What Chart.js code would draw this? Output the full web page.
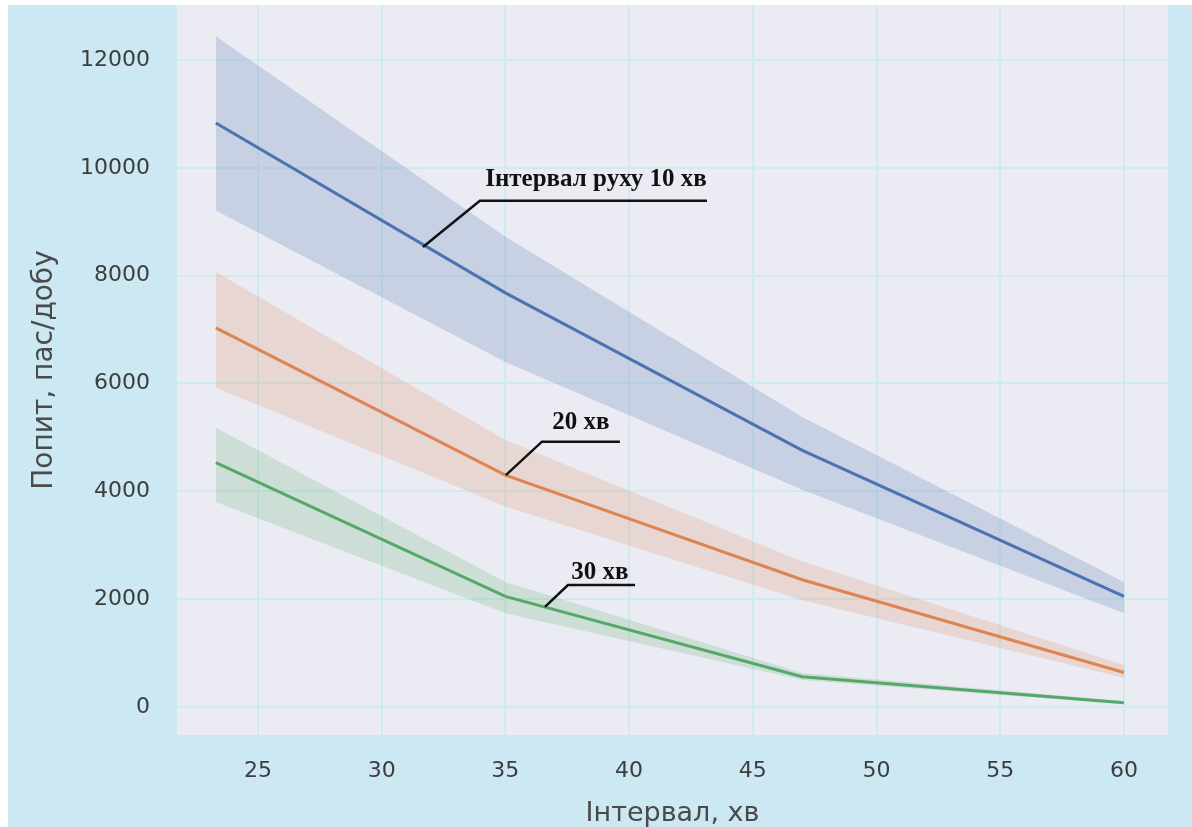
<!DOCTYPE html>
<html>
<head>
<meta charset="utf-8">
<script src="https://cdn.jsdelivr.net/npm/chart.js@4.4.1/dist/chart.umd.min.js"></script>
<style>
  html, body { margin: 0; padding: 0; background: #ffffff; width: 1192px; height: 827px; overflow: hidden; }
  #wrap { position: absolute; left: 8px; top: 5px; width: 1184px; height: 822px; }
</style>
</head>
<body>
<div id="wrap"><canvas id="c" width="1184" height="822"></canvas></div>
<script>
// ---- data ----
const intervals = [23.3, 35, 47, 60];               // Інтервал, хв
const seriesNames = ['10 хв', '20 хв', '30 хв'];

const mean10  = [10830, 7680, 4760, 2050];
const upper10 = [12440, 8720, 5380, 2320];
const lower10 = [9210, 6400, 4030, 1740];

const mean20  = [7030, 4300, 2360, 640];
const upper20 = [8070, 4950, 2700, 780];
const lower20 = [5920, 3720, 1980, 540];

const mean30  = [4530, 2050, 560, 80];
const upper30 = [5180, 2320, 630, 110];
const lower30 = [3800, 1740, 500, 50];

const xTickValues = [25, 30, 35, 40, 45, 50, 55, 60];
const yTickValues = [0, 2000, 4000, 6000, 8000, 10000, 12000];

const annTexts = ['Інтервал руху 10 хв', '20 хв', '30 хв'];

// ---- helpers ----
const pts = (ys) => intervals.map((x, i) => ({ x: x, y: ys[i] }));

const colors = {
  blue: '#4c72b0', orange: '#dd8452', green: '#55a868',
  blueBand: 'rgba(76,114,176,0.22)', orangeBand: 'rgba(221,132,82,0.2)', greenBand: 'rgba(85,168,104,0.2)'
};

function lineDs(label, ys, color) {
  return { label, data: pts(ys), borderColor: color, borderWidth: 3, pointRadius: 0, tension: 0, fill: false };
}
function upperDs(ys, color) {
  return { label: '_u', data: pts(ys), borderWidth: 0, borderColor: 'transparent', pointRadius: 0, tension: 0, fill: '+1', backgroundColor: color };
}
function lowerDs(ys) {
  return { label: '_l', data: pts(ys), borderWidth: 0, borderColor: 'transparent', pointRadius: 0, tension: 0, fill: false };
}

// annotation anchors (data units): text centre, elbow of leader, end of underline, tip on curve
const annLayout = [
  { tx: 38.66, ty: 9780, ex: 33.97, ey: 9390, endx: 43.15, px: 31.67, py: 8530 },
  { tx: 38.05, ty: 5270, ex: 36.48, ey: 4920, endx: 39.63, px: 35.02, py: 4300 },
  { tx: 38.82, ty: 2500, ex: 37.53, ey: 2260, endx: 40.24, px: 36.60, py: 1855 }
];

const bgPlugin = {
  id: 'bgPlugin',
  beforeDraw(chart) {
    const { ctx, chartArea: a, width, height } = chart;
    ctx.save();
    ctx.fillStyle = '#cce8f2';
    ctx.fillRect(0, 0, width, height);
    ctx.fillStyle = '#ebebf3';
    ctx.fillRect(a.left, a.top, a.right - a.left, a.bottom - a.top);
    ctx.restore();
  }
};

const annPlugin = {
  id: 'annPlugin',
  afterDatasetsDraw(chart) {
    const { ctx, scales: { x, y } } = chart;
    ctx.save();
    annLayout.forEach((a, i) => {
      ctx.strokeStyle = '#111';
      ctx.lineWidth = 2.5;
      ctx.beginPath();
      ctx.moveTo(x.getPixelForValue(a.px), y.getPixelForValue(a.py));
      ctx.lineTo(x.getPixelForValue(a.ex), y.getPixelForValue(a.ey));
      ctx.lineTo(x.getPixelForValue(a.endx), y.getPixelForValue(a.ey));
      ctx.stroke();
      ctx.fillStyle = '#111';
      ctx.font = 'bold 25px "Liberation Serif", "Times New Roman", serif';
      ctx.textAlign = 'center';
      ctx.textBaseline = 'middle';
      ctx.fillText(annTexts[i], x.getPixelForValue(a.tx), y.getPixelForValue(a.ty));
    });
    ctx.restore();
  }
};

const datasets = [
  lineDs(seriesNames[0], mean10, colors.blue),
  lineDs(seriesNames[1], mean20, colors.orange),
  lineDs(seriesNames[2], mean30, colors.green),
  upperDs(upper10, colors.blueBand), lowerDs(lower10),
  upperDs(upper20, colors.orangeBand), lowerDs(lower20),
  upperDs(upper30, colors.greenBand), lowerDs(lower30)
];

const tickFont = { family: '"DejaVu Sans", sans-serif', size: 22 };

new Chart(document.getElementById('c'), {
  type: 'line',
  data: { datasets },
  plugins: [bgPlugin, annPlugin],
  options: {
    responsive: false,
    animation: false,
    layout: { padding: { left: 0, top: 0, right: 24, bottom: 0 } },
    plugins: {
      legend: { display: false },
      tooltip: { enabled: false },
      filler: { drawTime: 'beforeDatasetsDraw', propagate: false }
    },
    scales: {
      x: {
        type: 'linear',
        min: 21.73, max: 61.78,
        afterBuildTicks: (s) => { s.ticks = xTickValues.map(v => ({ value: v })); },
        afterFit: (s) => { s.height = 92; s.paddingLeft = 0; s.paddingRight = 0; },
        grid: { color: '#d0eaee', lineWidth: 2, drawTicks: false },
        border: { display: false },
        ticks: { font: tickFont, color: '#3d3d3d', padding: 23, maxRotation: 0, callback: (v) => String(v) },
        title: { display: true, text: 'Інтервал, хв', font: { family: '"DejaVu Sans", sans-serif', size: 27 }, color: '#4a4a4a', padding: { top: 0, bottom: -3 } }
      },
      y: {
        type: 'linear',
        min: -520, max: 13020,
        afterBuildTicks: (s) => { s.ticks = yTickValues.map(v => ({ value: v })); },
        afterFit: (s) => { s.width = 169; s.paddingTop = 0; s.paddingBottom = 0; },
        grid: { color: '#d0eaee', lineWidth: 2, drawTicks: false },
        border: { display: false },
        ticks: { font: tickFont, color: '#3d3d3d', padding: 27, callback: (v) => String(v) },
        title: { display: true, text: 'Попит, пас/добу', font: { family: '"DejaVu Sans", sans-serif', size: 28 }, color: '#4a4a4a', padding: { top: 20, bottom: 0 } }
      }
    }
  }
});
</script>
</body>
</html>
